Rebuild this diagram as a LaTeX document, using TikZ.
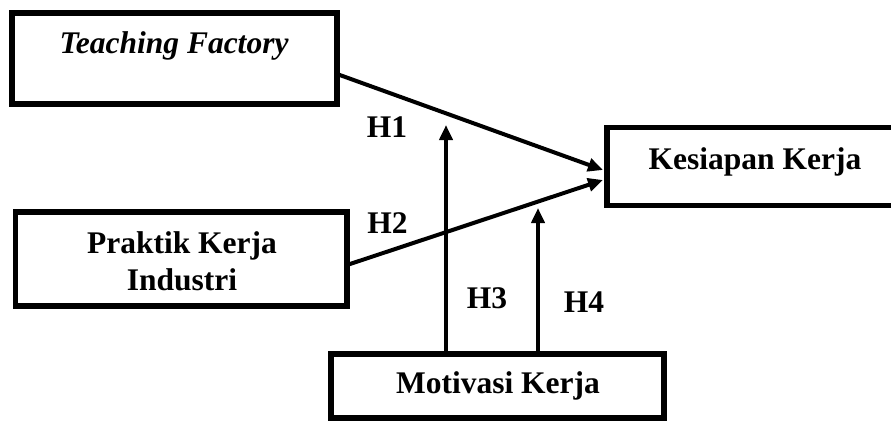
\documentclass[tikz,border=0pt]{standalone}
\usepackage{fontspec}
\setmainfont{Liberation Serif}
\usetikzlibrary{arrows.meta,calc}
\begin{document}
\begin{tikzpicture}[x=1pt,y=-1pt,
  box/.style={draw=black,line width=5.5pt,inner sep=0pt,outer sep=0pt,fill=white},
  txt/.style={font=\fontsize{31.5}{37}\selectfont\bfseries,inner sep=0pt,anchor=base,align=center},
  conn/.style={line width=4pt,-{Triangle[length=15pt,width=13pt]}}
]
\useasboundingbox (0,0) rectangle (891,421);
\clip (0,0) rectangle (891,421);
\fill[white] (0,0) rectangle (891,421);
% boxes
\node[box,minimum width=325pt,minimum height=91pt] (tf) at (174.5,58.5) {};
\node[box,minimum width=287pt,minimum height=78pt] (kk) at (750.5,166.5) {};
\node[box,minimum width=331.5pt,minimum height=94pt] (pki) at (181.25,259) {};
\node[box,minimum width=333pt,minimum height=64pt] (mk) at (497.5,386) {};
% texts
\node[txt] (tft) at (174,53) {\itshape Teaching Factory};
\node[txt] (kkt) at (755,169) {Kesiapan Kerja};
\node[txt] (pkit) at (182,290) {Praktik Kerja\\Industri};
\node[txt] (mkt) at (498,393) {Motivasi Kerja};
% connectors
\coordinate (tip1) at (603,170);
\coordinate (tip2) at (603,180);
\coordinate (h3tip) at (446,125);
\coordinate (h4tip) at (538,208);
\draw[conn] ([yshift=-15.5pt]tf.east) -- (tip1);
\draw[conn] ([yshift=-6pt]pki.east) -- (tip2);
\draw[conn] (mk.north -| h3tip) -- (h3tip);
\draw[conn] (mk.north -| h4tip) -- (h4tip);
% labels
\node[txt] (h1) at (387,137) {H1};
\node[txt] (h2) at (387.5,233) {H2};
\node[txt] (h3) at (487,308) {H3};
\node[txt] (h4) at (584,312) {H4};
\end{tikzpicture}
\end{document}
